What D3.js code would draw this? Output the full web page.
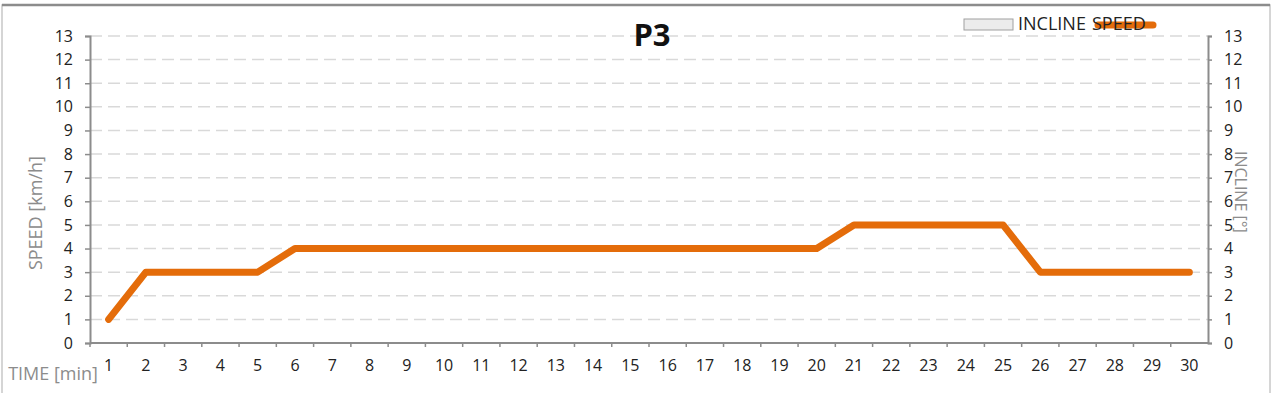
<!DOCTYPE html>
<html>
<head>
<meta charset="utf-8">
<script src="https://cdn.jsdelivr.net/npm/d3@7"></script>
<style>
  body { margin: 0; background: #fff; }
  svg text { font-family: "Open Sans", "DejaVu Sans", sans-serif; }
</style>
</head>
<body>
<div id="chart"></div>
<script>
// data
const minutes = d3.range(1, 31).map(String);
const speed = [1, 3, 3, 3, 3, 4, 4, 4, 4, 4, 4, 4, 4, 4, 4, 4, 4, 4, 4, 4, 5, 5, 5, 5, 5, 3, 3, 3, 3, 3];
const incline = [];   // series shown in legend, no bars visible
const yTicks = d3.range(0, 14);

const W = 1273, H = 393;
const margin = {top: 36, right: 65, bottom: 50, left: 90};

const svg = d3.select("#chart").append("svg")
    .attr("width", W)
    .attr("height", H);

// outer frame
svg.append("rect")
    .attr("x", 2).attr("y", 5)
    .attr("width", W - 5).attr("height", H + 10)
    .attr("fill", "#fff")
    .attr("stroke", "#c8c8c8")
    .attr("stroke-width", 1.5);
svg.append("line")
    .attr("x1", 2).attr("x2", W - 3)
    .attr("y1", 5).attr("y2", 5)
    .attr("stroke", "#8c8c8c")
    .attr("stroke-width", 2.5);

let x = d3.scaleBand()
    .domain(minutes)
    .range([margin.left, W - margin.right]);

let y = d3.scaleLinear()
    .domain([0, 13])
    .range([H - margin.bottom, margin.top]);

// gridlines
svg.append("g")
    .selectAll("line")
    .data(yTicks.filter(d => d > 0))
    .enter().append("line")
    .attr("x1", margin.left).attr("x2", W - margin.right)
    .attr("y1", d => y(d)).attr("y2", d => y(d))
    .attr("stroke", "#d9d9d9")
    .attr("stroke-width", 1.5)
    .attr("stroke-dasharray", "12,6");

// left axis
let yAxisL = svg.append("g")
    .attr("transform", `translate(${margin.left},0)`)
    .call(d3.axisLeft(y).tickValues(yTicks).tickSize(5).tickPadding(12));

// right axis
let yAxisR = svg.append("g")
    .attr("transform", `translate(${W - margin.right},0)`)
    .call(d3.axisRight(y).tickValues(yTicks).tickSize(4).tickPadding(12));

// x axis, ticks at band edges
let xAxis = svg.append("g")
    .attr("transform", `translate(0,${H - margin.bottom})`)
    .call(d3.axisBottom(x).tickSize(0).tickPadding(17));

xAxis.append("g")
    .selectAll("line")
    .data(minutes)
    .enter().append("line")
    .attr("x1", d => x(d)).attr("x2", d => x(d))
    .attr("y1", 0).attr("y2", 4)
    .attr("stroke", "#8c8c8c")
    .attr("stroke-width", 1.5);

[yAxisL, yAxisR, xAxis].forEach(g => {
    g.select(".domain").attr("stroke", "#8c8c8c").attr("stroke-width", 2);
    g.selectAll(".tick line").attr("stroke", "#8c8c8c").attr("stroke-width", 1.5);
    g.selectAll(".tick text").attr("fill", "#222").style("font-size", "16px");
});
xAxis.select(".domain").attr("d", `M${margin.left},0H${W - margin.right}`);

// speed line
let line = d3.line()
    .x((d, i) => x(minutes[i]) + x.bandwidth() / 2)
    .y(d => y(d));

svg.append("path")
    .datum(speed)
    .attr("d", line)
    .attr("fill", "none")
    .attr("stroke", "#e46c0a")
    .attr("stroke-width", 7)
    .attr("stroke-linejoin", "round")
    .attr("stroke-linecap", "round");

// titles
svg.append("text")
    .attr("x", 652).attr("y", 46)
    .attr("text-anchor", "middle")
    .style("font-size", "31px")
    .style("font-weight", "bold")
    .attr("fill", "#111")
    .text("P3");

svg.append("text")
    .attr("transform", `translate(42,${y(5.5)}) rotate(-90)`)
    .attr("text-anchor", "middle")
    .attr("fill", "#8c8c8c")
    .style("font-size", "18px")
    .text("SPEED [km/h]");

svg.append("text")
    .attr("transform", `translate(1235,${y(6.4)}) rotate(90)`)
    .attr("text-anchor", "middle")
    .attr("fill", "#8c8c8c")
    .style("font-size", "16px")
    .text("INCLINE [°]");

svg.append("text")
    .attr("x", 98).attr("y", 380)
    .attr("text-anchor", "end")
    .attr("fill", "#8c8c8c")
    .style("font-size", "18px")
    .text("TIME [min]");

// legend
let legend = svg.append("g");
legend.append("rect")
    .attr("x", 964).attr("y", 19)
    .attr("width", 49).attr("height", 11)
    .attr("fill", "#ececec")
    .attr("stroke", "#a0a0a0");
legend.append("text")
    .attr("x", 1018).attr("y", 30)
    .attr("fill", "#222")
    .style("font-size", "18px")
    .text("INCLINE");
legend.append("line")
    .attr("x1", 1098).attr("x2", 1153)
    .attr("y1", 25).attr("y2", 25)
    .attr("stroke", "#e46c0a")
    .attr("stroke-width", 7)
    .attr("stroke-linecap", "round");
legend.append("text")
    .attr("x", 1092).attr("y", 30)
    .attr("fill", "#222")
    .style("font-size", "18px")
    .text("SPEED");
</script>
</body>
</html>
